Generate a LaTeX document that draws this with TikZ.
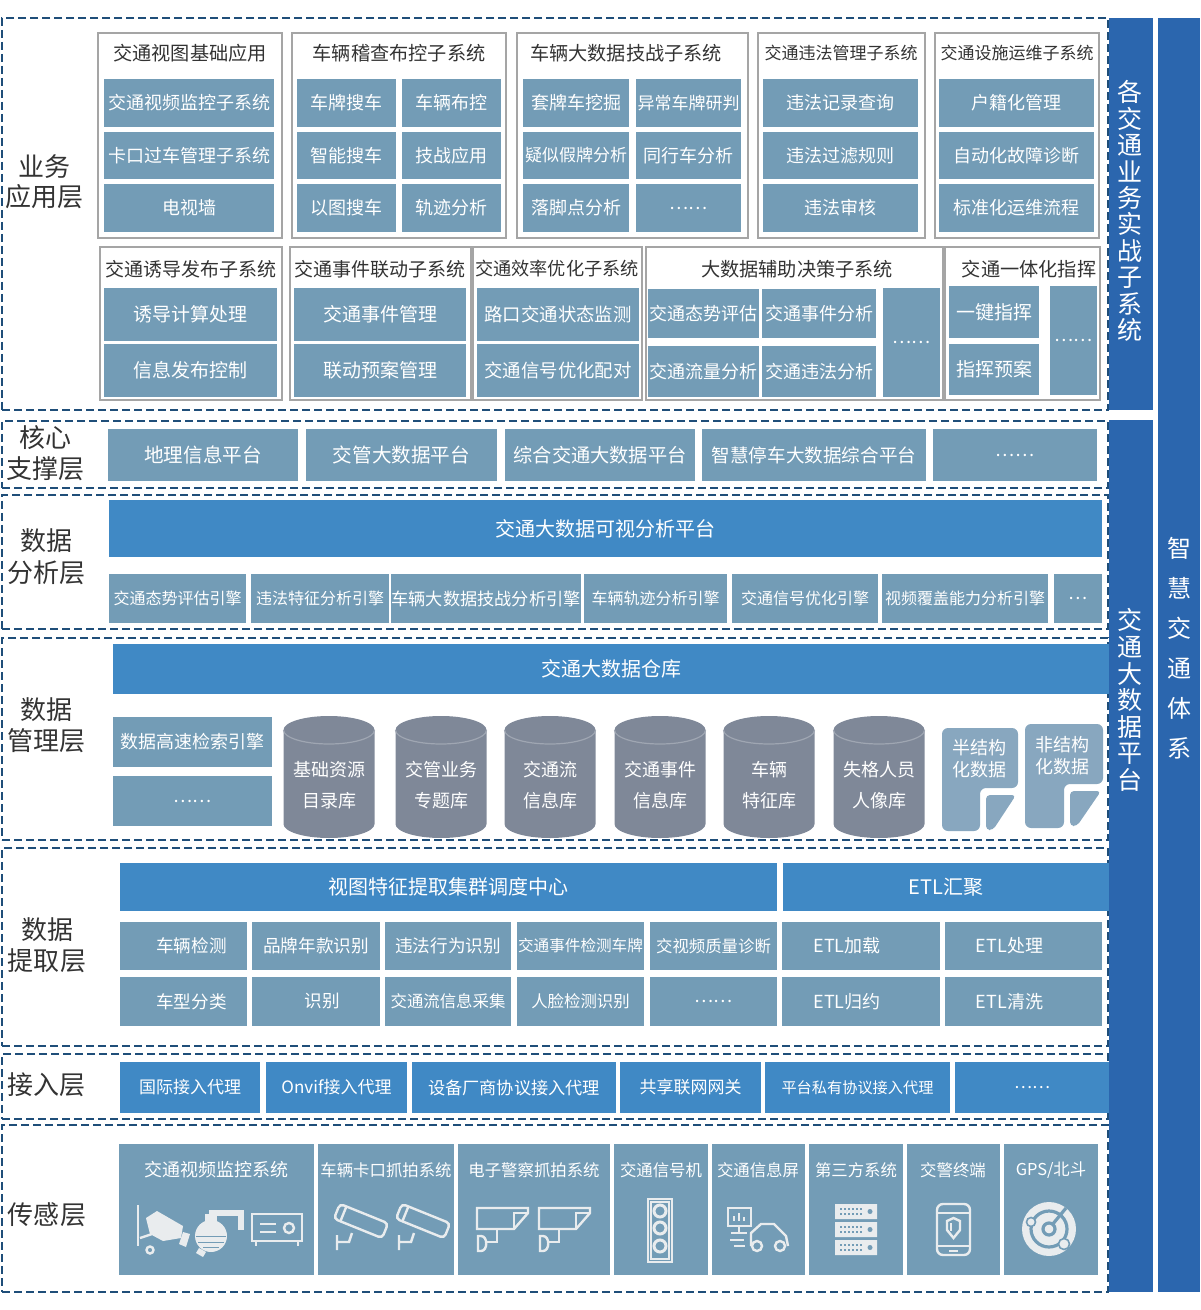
\documentclass[tikz,border=0pt]{standalone}
\usepackage{fontspec}
\setmainfont{Noto Sans CJK SC}
\usetikzlibrary{fit,positioning}
\definecolor{cellblue}{HTML}{739CB6}
\definecolor{headblue}{HTML}{4089C5}
\definecolor{barblue}{HTML}{2B66AE}
\definecolor{cylgray}{HTML}{7F8898}
\definecolor{docblue}{HTML}{88A7BF}
\definecolor{groupgray}{HTML}{A5A5A5}
\definecolor{labelgray}{HTML}{333333}
\definecolor{layernavy}{HTML}{1F4E79}
\definecolor{iconwhite}{HTML}{E9ECEE}
\tikzset{
  layerbox/.style={draw=layernavy,line width=1.1pt,dash pattern=on 4pt off 2pt,inner sep=0pt},
  groupbox/.style={draw=groupgray,line width=1.1pt,inner sep=0pt},
  cell/.style={fill=cellblue,text=white,inner sep=0pt,font=\fontsize{9}{11}\selectfont},
  headbar/.style={fill=headblue,text=white,inner sep=0pt,font=\fontsize{10}{12}\selectfont},
  sidebar/.style={fill=barblue,inner sep=0pt},
  grouptitle/.style={text=labelgray,inner sep=0pt,font=\fontsize{9.6}{11}\selectfont},
  layername/.style={text=labelgray,inner sep=0pt,align=center,font=\fontsize{13}{15}\selectfont},
  vtext/.style={text=white,inner sep=0pt,align=center},
  dbtext/.style={text=white,inner sep=0pt,align=center,font=\fontsize{9}{15.5}\selectfont},
  doctext/.style={text=white,inner sep=0pt,align=center,font=\fontsize{9}{11}\selectfont},
  stitle/.style={text=white,inner sep=0pt,font=\fontsize{8.2}{10}\selectfont},
  iconline/.style={draw=iconwhite,line width=1.2pt},
}
\begin{document}
\begin{tikzpicture}[x=0.5pt,y=-0.5pt]
  \useasboundingbox (0,0) rectangle (1200,1310);
  \node[layerbox,fit={(2,18) (1108,410)}] (L1) {};
  \node[layerbox,fit={(2,421) (1108,488)}] (L2) {};
  \node[layerbox,fit={(2,495) (1108,629)}] (L3) {};
  \node[layerbox,fit={(2,638) (1108,840)}] (L4) {};
  \node[layerbox,fit={(2,848) (1108,1046)}] (L5) {};
  \node[layerbox,fit={(2,1054) (1108,1119)}] (L6) {};
  \node[layerbox,fit={(2,1125) (1108,1292)}] (L7) {};
  \node[sidebar,fit={(1109,18) (1153,410)}] (B1) {};
  \node[sidebar,fit={(1109,420) (1153,1292)}] (B2) {};
  \node[sidebar,fit={(1158,18) (1200,1292)}] (B3) {};
  \node[vtext,font=\fontsize{12.5}{13.2}\selectfont] (v1) at (1130,211) {各\\交\\通\\业\\务\\实\\战\\子\\系\\统};
  \node[vtext,font=\fontsize{12.5}{13.3}\selectfont] (v2) at (1130,700) {交\\通\\大\\数\\据\\平\\台};
  \node[vtext,font=\fontsize{12}{20}\selectfont] (v3) at (1179,648) {智\\慧\\交\\通\\体\\系};
  \node[layername] (n1) at (44,182) {业务\\应用层};
  \node[layername,font=\fontsize{13}{15.5}\selectfont] (n2) at (45,453) {核心\\支撑层};
  \node[layername,font=\fontsize{13}{16}\selectfont] (n3) at (46,557) {数据\\分析层};
  \node[layername,font=\fontsize{13}{15.5}\selectfont] (n4) at (46,725) {数据\\管理层};
  \node[layername,font=\fontsize{13}{15.5}\selectfont] (n5) at (47,945) {数据\\提取层};
  \node[layername] (n6) at (46,1085) {接入层};
  \node[layername] (n7) at (47,1215) {传感层};

  \node[groupbox,fit={(98,33) (282,238)}] (GA) {};
  \node[grouptitle] (GAt) at (190,53) {交通视图基础应用};
  \node[cell,minimum width=85pt,minimum height=24pt] (a1) at (189,103) {交通视频监控子系统};
  \node[cell,minimum width=85pt,minimum height=23.5pt] (a2) at (189,155.5) {卡口过车管理子系统};
  \node[cell,minimum width=85pt,minimum height=24pt] (a3) at (189,208) {电视墙};
  \node[groupbox,fit={(292,33) (506,238)}] (GB) {};
  \node[grouptitle] (GBt) at (399,53) {车辆稽查布控子系统};
  \node[cell,minimum width=49.5pt,minimum height=24pt] (b1) at (346.5,103) {车牌搜车};
  \node[cell,minimum width=49.5pt,minimum height=24pt] (b2) at (451.5,103) {车辆布控};
  \node[cell,minimum width=49.5pt,minimum height=23.5pt] (b3) at (346.5,155.5) {智能搜车};
  \node[cell,minimum width=49.5pt,minimum height=23.5pt] (b4) at (451.5,155.5) {技战应用};
  \node[cell,minimum width=49.5pt,minimum height=24pt] (b5) at (346.5,208) {以图搜车};
  \node[cell,minimum width=49.5pt,minimum height=24pt] (b6) at (451.5,208) {轨迹分析};
  \node[groupbox,fit={(517,33) (748,238)}] (GC) {};
  \node[grouptitle] (GCt) at (626,53) {车辆大数据技战子系统};
  \node[cell,minimum width=53pt,minimum height=24pt] (c1) at (576,103) {套牌车挖掘};
  \node[cell,minimum width=52.5pt,minimum height=24pt,font=\fontsize{8.5}{10}\selectfont] (c2) at (688.5,103) {异常车牌研判};
  \node[cell,minimum width=53pt,minimum height=23.5pt,font=\fontsize{8.5}{10}\selectfont] (c3) at (576,155.5) {疑似假牌分析};
  \node[cell,minimum width=52.5pt,minimum height=23.5pt] (c4) at (688.5,155.5) {同行车分析};
  \node[cell,minimum width=53pt,minimum height=24pt] (c5) at (576,208) {落脚点分析};
  \node[cell,minimum width=52.5pt,minimum height=24pt] (c6) at (688.5,208) {……};
  \node[groupbox,fit={(758,33) (925,238)}] (GD) {};
  \node[grouptitle,font=\fontsize{8.5}{10}\selectfont] (GDt) at (841,53) {交通违法管理子系统};
  \node[cell,minimum width=77.5pt,minimum height=24pt] (d1) at (840.5,103) {违法记录查询};
  \node[cell,minimum width=77.5pt,minimum height=23.5pt] (d2) at (840.5,155.5) {违法过滤规则};
  \node[cell,minimum width=77.5pt,minimum height=24pt] (d3) at (840.5,208) {违法审核};
  \node[groupbox,fit={(935,33) (1099,238)}] (GE) {};
  \node[grouptitle,font=\fontsize{8.5}{10}\selectfont] (GEt) at (1017,53) {交通设施运维子系统};
  \node[cell,minimum width=77.5pt,minimum height=24pt] (e1) at (1016.5,103) {户籍化管理};
  \node[cell,minimum width=77.5pt,minimum height=23.5pt] (e2) at (1016.5,155.5) {自动化故障诊断};
  \node[cell,minimum width=77.5pt,minimum height=24pt] (e3) at (1016.5,208) {标准化运维流程};

  \node[groupbox,fit={(100,247) (282,400)}] (GF) {};
  \node[grouptitle,font=\fontsize{9.5}{11}\selectfont] (GFt) at (191,269) {交通诱导发布子系统};
  \node[cell,minimum width=86.5pt,minimum height=26.5pt,font=\fontsize{9.5}{11}\selectfont] (f1) at (190.5,314.5) {诱导计算处理};
  \node[cell,minimum width=86.5pt,minimum height=26.5pt,font=\fontsize{9.5}{11}\selectfont] (f2) at (190.5,370.5) {信息发布控制};
  \node[groupbox,fit={(290,247) (471,400)}] (GG) {};
  \node[grouptitle,font=\fontsize{9.5}{11}\selectfont] (GGt) at (380,269) {交通事件联动子系统};
  \node[cell,minimum width=86pt,minimum height=26.5pt,font=\fontsize{9.5}{11}\selectfont] (g1) at (380,314.5) {交通事件管理};
  \node[cell,minimum width=86pt,minimum height=26.5pt,font=\fontsize{9.5}{11}\selectfont] (g2) at (380,370.5) {联动预案管理};
  \node[groupbox,fit={(473,247) (642,400)}] (GH) {};
  \node[grouptitle,font=\fontsize{9.1}{11}\selectfont] (GHt) at (557,269) {交通效率优化子系统};
  \node[cell,minimum width=81pt,minimum height=26.5pt,font=\fontsize{9.2}{11}\selectfont] (h1) at (558,314.5) {路口交通状态监测};
  \node[cell,minimum width=81pt,minimum height=26.5pt,font=\fontsize{9.2}{11}\selectfont] (h2) at (558,370.5) {交通信号优化配对};
  \node[groupbox,fit={(646,247) (943,400)}] (GI) {};
  \node[grouptitle] (GIt) at (797,269) {大数据辅助决策子系统};
  \node[cell,minimum width=55.5pt,minimum height=24.5pt] (i1) at (703.5,313.5) {交通态势评估};
  \node[cell,minimum width=57pt,minimum height=24.5pt] (i2) at (819,313.5) {交通事件分析};
  \node[cell,minimum width=55.5pt,minimum height=25.5pt] (i3) at (703.5,371.5) {交通流量分析};
  \node[cell,minimum width=57pt,minimum height=25.5pt] (i4) at (819,371.5) {交通违法分析};
  \node[cell,minimum width=28.5pt,minimum height=54.5pt] (i5) at (911.5,342.5) {……};
  \node[groupbox,fit={(945,247) (1100,400)}] (GJ) {};
  \node[grouptitle] (GJt) at (1029,269) {交通一体化指挥};
  \node[cell,minimum width=45pt,minimum height=26pt,font=\fontsize{9.5}{11}\selectfont] (j1) at (994,312) {一键指挥};
  \node[cell,minimum width=45pt,minimum height=25.5pt,font=\fontsize{9.5}{11}\selectfont] (j2) at (994,369.5) {指挥预案};
  \node[cell,minimum width=23.5pt,minimum height=54.5pt] (j3) at (1073.5,340.5) {……};

  \node[cell,minimum width=95pt,minimum height=26pt,font=\fontsize{9.8}{11}\selectfont] (k1) at (203,455) {地理信息平台};
  \node[cell,minimum width=95.5pt,minimum height=26pt,font=\fontsize{9.8}{11}\selectfont] (k2) at (401.5,455) {交管大数据平台};
  \node[cell,minimum width=95pt,minimum height=26pt,font=\fontsize{9.6}{11}\selectfont] (k3) at (600,455) {综合交通大数据平台};
  \node[cell,minimum width=112pt,minimum height=26pt,font=\fontsize{9.3}{11}\selectfont] (k4) at (814,455) {智慧停车大数据综合平台};
  \node[cell,minimum width=82pt,minimum height=26pt] (k5) at (1015,455) {……};

  \node[headbar,minimum width=496.5pt,minimum height=28.5pt] (p0) at (605.5,528.5) {交通大数据可视分析平台};
  \node[cell,minimum width=68.5pt,minimum height=24.5pt,font=\fontsize{8}{10}\selectfont] (p1) at (177.5,598.5) {交通态势评估引擎};
  \node[cell,minimum width=69pt,minimum height=24.5pt,font=\fontsize{8}{10}\selectfont] (p2) at (320,598.5) {违法特征分析引擎};
  \node[cell,minimum width=93pt,minimum height=24.5pt,font=\fontsize{8.6}{10}\selectfont] (p3) at (486,598.5) {车辆大数据技战分析引擎};
  \node[cell,minimum width=71.5pt,minimum height=24.5pt,font=\fontsize{8}{10}\selectfont] (p4) at (655.5,598.5) {车辆轨迹分析引擎};
  \node[cell,minimum width=73pt,minimum height=24.5pt,font=\fontsize{8}{10}\selectfont] (p5) at (805,598.5) {交通信号优化引擎};
  \node[cell,minimum width=83pt,minimum height=24.5pt,font=\fontsize{8}{10}\selectfont] (p6) at (965,598.5) {视频覆盖能力分析引擎};
  \node[cell,minimum width=24pt,minimum height=24.5pt] (p7) at (1078,598.5) {…};

  \node[headbar,minimum width=498pt,minimum height=25pt] (w0) at (611,669) {交通大数据仓库};
  \node[cell,minimum width=79.5pt,minimum height=25pt] (w1) at (192.5,742) {数据高速检索引擎};
  \node[cell,minimum width=79.5pt,minimum height=25pt] (w2) at (192.5,801) {……};
  \fill[cylgray] (283.5,730) -- (283.5,824) arc[start angle=180,end angle=360,x radius=22.75pt,y radius=7pt] -- (374.5,730) arc[start angle=0,end angle=180,x radius=22.75pt,y radius=7pt] -- cycle;
  \fill[cylgray] (395.5,730) -- (395.5,824) arc[start angle=180,end angle=360,x radius=22.75pt,y radius=7pt] -- (486.5,730) arc[start angle=0,end angle=180,x radius=22.75pt,y radius=7pt] -- cycle;
  \fill[cylgray] (504.5,730) -- (504.5,824) arc[start angle=180,end angle=360,x radius=22.75pt,y radius=7pt] -- (595.5,730) arc[start angle=0,end angle=180,x radius=22.75pt,y radius=7pt] -- cycle;
  \fill[cylgray] (614.5,730) -- (614.5,824) arc[start angle=180,end angle=360,x radius=22.75pt,y radius=7pt] -- (705.5,730) arc[start angle=0,end angle=180,x radius=22.75pt,y radius=7pt] -- cycle;
  \fill[cylgray] (723.5,730) -- (723.5,824) arc[start angle=180,end angle=360,x radius=22.75pt,y radius=7pt] -- (814.5,730) arc[start angle=0,end angle=180,x radius=22.75pt,y radius=7pt] -- cycle;
  \fill[cylgray] (833.5,730) -- (833.5,824) arc[start angle=180,end angle=360,x radius=22.75pt,y radius=7pt] -- (924.5,730) arc[start angle=0,end angle=180,x radius=22.75pt,y radius=7pt] -- cycle;
  \begin{scope}[draw=cylgray!75!white,line width=0.6pt]
    \draw (283.5,730) arc[start angle=180,end angle=360,x radius=22.75pt,y radius=7pt];
    \draw (395.5,730) arc[start angle=180,end angle=360,x radius=22.75pt,y radius=7pt];
    \draw (504.5,730) arc[start angle=180,end angle=360,x radius=22.75pt,y radius=7pt];
    \draw (614.5,730) arc[start angle=180,end angle=360,x radius=22.75pt,y radius=7pt];
    \draw (723.5,730) arc[start angle=180,end angle=360,x radius=22.75pt,y radius=7pt];
    \draw (833.5,730) arc[start angle=180,end angle=360,x radius=22.75pt,y radius=7pt];
  \end{scope}
  \node[dbtext] (db1) at (329,785) {基础资源\\目录库};
  \node[dbtext] (db2) at (441,785) {交管业务\\专题库};
  \node[dbtext] (db3) at (550,785) {交通流\\信息库};
  \node[dbtext] (db4) at (660,785) {交通事件\\信息库};
  \node[dbtext] (db5) at (769,785) {车辆\\特征库};
  \node[dbtext] (db6) at (879,785) {失格人员\\人像库};
  \fill[docblue,rounded corners=3pt] (942,728) -- (1018,728) -- (1018,788) -- (980,788) -- (980,831) -- (942,831) -- cycle;
  \fill[docblue,rounded corners=2pt] (986,795) -- (1016,795) -- (993,830) -- (986,830) -- cycle;
  \fill[docblue,rounded corners=3pt] (1025,724) -- (1103,724) -- (1103,784) -- (1064,784) -- (1064,828) -- (1025,828) -- cycle;
  \fill[docblue,rounded corners=2pt] (1070,791) -- (1101,791) -- (1077,826) -- (1070,826) -- cycle;
  \node[doctext] (semi) at (979,759) {半结构\\化数据};
  \node[doctext] (unst) at (1062,756) {非结构\\化数据};

  \node[headbar,minimum width=328.5pt,minimum height=24pt] (x0) at (448.5,887) {视图特征提取集群调度中心};
  \node[headbar,minimum width=163pt,minimum height=24pt] (etl) at (946,887) {ETL汇聚};
  \node[cell,minimum width=63.5pt,minimum height=24pt,font=\fontsize{8.8}{10}\selectfont] (x1) at (183.5,946) {\hspace{8pt}车辆检测};
  \node[cell,minimum width=64pt,minimum height=24pt,font=\fontsize{8.8}{10}\selectfont] (x2) at (316,946) {品牌年款识别};
  \node[cell,minimum width=63pt,minimum height=24pt,font=\fontsize{8.8}{10}\selectfont] (x3) at (448,946) {违法行为识别};
  \node[cell,minimum width=63.5pt,minimum height=24pt,font=\fontsize{7.8}{10}\selectfont] (x4) at (580.5,946) {交通事件检测车牌};
  \node[cell,minimum width=63.5pt,minimum height=24pt,font=\fontsize{8.2}{10}\selectfont] (x5) at (713.5,946) {交视频质量诊断};
  \node[cell,minimum width=79pt,minimum height=24pt] (x6) at (861,946) {ETL加载\hspace{14pt}\mbox{}};
  \node[cell,minimum width=78.5pt,minimum height=24pt] (x7) at (1023.5,946) {ETL处理\hspace{14pt}\mbox{}};
  \node[cell,minimum width=63.5pt,minimum height=24.5pt,font=\fontsize{8.8}{10}\selectfont] (y1) at (183.5,1001.5) {\hspace{8pt}车型分类};
  \node[cell,minimum width=64pt,minimum height=24.5pt,font=\fontsize{8.8}{10}\selectfont] (y2) at (316,1001.5) {\hspace{6pt}识别};
  \node[cell,minimum width=63pt,minimum height=24.5pt,font=\fontsize{8.2}{10}\selectfont] (y3) at (448,1001.5) {交通流信息采集};
  \node[cell,minimum width=63.5pt,minimum height=24.5pt,font=\fontsize{8.2}{10}\selectfont] (y4) at (580.5,1001.5) {人脸检测识别};
  \node[cell,minimum width=63.5pt,minimum height=24.5pt] (y5) at (713.5,1001.5) {……};
  \node[cell,minimum width=79pt,minimum height=24.5pt] (y6) at (861,1001.5) {ETL归约\hspace{14pt}\mbox{}};
  \node[cell,minimum width=78.5pt,minimum height=24.5pt] (y7) at (1023.5,1001.5) {ETL清洗\hspace{14pt}\mbox{}};

  \node[headbar,minimum width=70pt,minimum height=25.5pt,font=\fontsize{8.5}{10}\selectfont] (r1) at (190,1087.5) {国际接入代理};
  \node[headbar,minimum width=70.5pt,minimum height=25.5pt,font=\fontsize{8.5}{10}\selectfont] (r2) at (336.5,1087.5) {Onvif接入代理};
  \node[headbar,minimum width=102pt,minimum height=25.5pt,font=\fontsize{8.6}{10}\selectfont] (r3) at (514,1087.5) {设备厂商协议接入代理};
  \node[headbar,minimum width=70.5pt,minimum height=25.5pt,font=\fontsize{8.5}{10}\selectfont] (r4) at (690.5,1087.5) {共享联网网关};
  \node[headbar,minimum width=92.5pt,minimum height=25.5pt,font=\fontsize{7.6}{10}\selectfont] (r5) at (857.5,1087.5) {平台私有协议接入代理};
  \node[headbar,minimum width=77pt,minimum height=25.5pt,font=\fontsize{8.5}{10}\selectfont] (r6) at (1032,1087.5) {……};

  \node[cell,fit={(119,1144) (314,1275)}] (s1) {};
  \node[cell,fit={(318,1144) (454,1275)}] (s2) {};
  \node[cell,fit={(458,1144) (610,1275)}] (s3) {};
  \node[cell,fit={(614,1144) (708,1275)}] (s4) {};
  \node[cell,fit={(712,1144) (805,1275)}] (s5) {};
  \node[cell,fit={(809,1144) (903,1275)}] (s6) {};
  \node[cell,fit={(907,1144) (1000,1275)}] (s7) {};
  \node[cell,fit={(1004,1144) (1098,1275)}] (s8) {};
  \node[stitle,font=\fontsize{9}{10}\selectfont] (s1t) at (216,1170) {交通视频监控系统};
  \node[stitle] (s2t) at (386,1170) {车辆卡口抓拍系统};
  \node[stitle] (s3t) at (534,1170) {电子警察抓拍系统};
  \node[stitle] (s4t) at (661,1170) {交通信号机};
  \node[stitle] (s5t) at (758,1170) {交通信息屏};
  \node[stitle] (s6t) at (856,1170) {第三方系统};
  \node[stitle] (s7t) at (953,1170) {交警终端};
  \node[stitle] (s8t) at (1051,1170) {GPS/北斗};

  \draw[iconline] (138,1205) -- (138,1246);
  \draw[iconline] (150,1250) circle[radius=3.5];
  \draw[iconline] (140,1238) -- (152,1234);
  \fill[iconwhite] (146,1218) -- (157,1211) -- (183,1226) -- (181,1238) -- (163,1241) -- (150,1234) -- cycle;
  \fill[iconwhite] (183,1232) -- (190,1234) -- (186,1247) -- (179,1244) -- cycle;
  \fill[iconwhite] (209,1210) rectangle (244,1216);
  \fill[iconwhite] (238,1210) rectangle (244,1230);
  \fill[iconwhite] (205,1214) rectangle (217,1222);
  \fill[iconwhite] (211,1236) circle[radius=16];
  \draw[cellblue,line width=0.5pt] (196,1236) -- (226,1236) (198,1242) -- (224,1242) (203,1247) -- (219,1247);
  \fill[iconwhite] (199,1248) -- (206,1252) -- (203,1257) -- (196,1253) -- cycle;
  \draw[iconline] (252,1214) rectangle (302,1241);
  \draw[iconline] (256,1241) -- (256,1246) (298,1241) -- (298,1246);
  \draw[iconline] (260,1224) -- (276,1224) (260,1232) -- (276,1232);
  \draw[iconline] (289,1228) circle[radius=5];
  \begin{scope}[shift={(361,1221)},rotate=-22]
    \draw[iconline,rounded corners=2pt] (-26,-8) rectangle (26,8);
    \draw[iconline] (-19,-8) -- (-19,8);
  \end{scope}
  \begin{scope}[shift={(423,1221)},rotate=-22]
    \draw[iconline,rounded corners=2pt] (-26,-8) rectangle (26,8);
    \draw[iconline] (-19,-8) -- (-19,8);
  \end{scope}
  \draw[iconline] (352,1233) -- (349,1242) -- (338,1242) (337,1235) -- (337,1250);
  \draw[iconline] (414,1233) -- (411,1242) -- (400,1242) (399,1235) -- (399,1250);
  \draw[iconline] (477,1208) -- (528,1208) -- (528,1213) -- (514,1229) -- (477,1229) -- cycle;
  \draw[iconline] (514,1229) -- (514,1213) -- (528,1213);
  \draw[iconline] (497,1229) -- (497,1242) -- (485,1242);
  \draw[iconline] (478,1236) -- (478,1251) -- (481,1251) .. controls (488,1251) and (488,1236) .. (481,1236) -- cycle;
  \draw[iconline] (539,1208) -- (590,1208) -- (590,1213) -- (576,1229) -- (539,1229) -- cycle;
  \draw[iconline] (576,1229) -- (576,1213) -- (590,1213);
  \draw[iconline] (559,1229) -- (559,1242) -- (547,1242);
  \draw[iconline] (540,1236) -- (540,1251) -- (543,1251) .. controls (550,1251) and (550,1236) .. (543,1236) -- cycle;
  \draw[iconline] (648,1199) rectangle (672,1262);
  \draw[iconline,line width=0.6pt] (651,1202) rectangle (669,1259);
  \draw[iconline,line width=1.5pt] (660,1211) circle[radius=6] (660,1228) circle[radius=6] (660,1246) circle[radius=6];
  \draw[iconline] (728,1208) rectangle (751,1226);
  \draw[iconline] (734,1221) -- (734,1216) (739,1221) -- (739,1213) (744,1221) -- (744,1217);
  \draw[iconline] (739,1226) -- (739,1233) (731,1233) -- (747,1233);
  \draw[iconline] (751,1246) -- (751,1233) -- (761,1224) -- (774,1224) -- (786,1236) -- (788,1246);
  \draw[iconline] (757,1246) circle[radius=5] (780,1246) circle[radius=5];
  \draw[iconline] (730,1240) -- (744,1240) (734,1246) -- (745,1246);
  \fill[iconwhite] (835,1204) rectangle (877,1219) (835,1222) rectangle (877,1237) (835,1240) rectangle (877,1255);
  \draw[cellblue,line width=0.8pt,dash pattern=on 1pt off 1pt] (840,1209) -- (864,1209) (840,1214) -- (864,1214) (840,1227) -- (864,1227) (840,1232) -- (864,1232) (840,1245) -- (864,1245) (840,1250) -- (864,1250);
  \fill[cellblue] (870,1211.5) circle[radius=2.5] (870,1229.5) circle[radius=2.5] (870,1247.5) circle[radius=2.5];
  \draw[iconline,rounded corners=3pt] (937,1204) rectangle (970,1255);
  \draw[iconline] (937,1213) -- (970,1213) (937,1246) -- (970,1246) (949,1251) -- (958,1251);
  \draw[iconline] (947,1221) -- (953.5,1218) -- (960,1221) -- (960,1230) -- (953.5,1238) -- (947,1230) -- cycle;
  \draw[iconline,line width=0.8pt] (951,1223) -- (951,1231);
  \fill[iconwhite] (1049,1229) circle[radius=27];
  \draw[cellblue,line width=1.6pt] (1049,1229) circle[radius=18] (1049,1229) circle[radius=6];
  \draw[cellblue,line width=1.6pt] (1052,1225) -- (1066,1208);
  \filldraw[fill=iconwhite,draw=cellblue,line width=0.8pt] (1031,1222) circle[radius=4.5] (1064,1244) circle[radius=5.5];
\end{tikzpicture}
\end{document}
